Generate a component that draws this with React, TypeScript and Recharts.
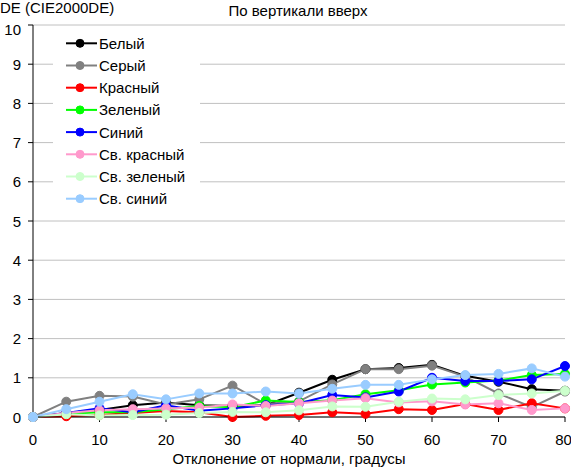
import React from 'react';
import { LineChart, Line, XAxis, YAxis, CartesianGrid, Label } from 'recharts';

const angles = [0, 5, 10, 15, 20, 25, 30, 35, 40, 45, 50, 55, 60, 65, 70, 75, 80];
const xTicks = [0, 10, 20, 30, 40, 50, 60, 70, 80];
const yTicks = [0, 1, 2, 3, 4, 5, 6, 7, 8, 9, 10];

const white = [0, 0.1, 0.18, 0.3, 0.37, 0.3, 0.28, 0.3, 0.62, 0.95, 1.22, 1.25, 1.33, 1.05, 0.9, 0.71, 0.67];
const gray = [0, 0.39, 0.54, 0.52, 0.32, 0.45, 0.8, 0.33, 0.4, 0.83, 1.22, 1.22, 1.31, 1.03, 0.6, 0.25, 0.65];
const red = [0, 0.02, 0.05, 0.1, 0.15, 0.12, 0.0, 0.03, 0.05, 0.12, 0.08, 0.2, 0.18, 0.33, 0.18, 0.35, 0.22];
const green = [0, 0.08, 0.12, 0.12, 0.2, 0.28, 0.25, 0.42, 0.38, 0.43, 0.58, 0.68, 0.83, 0.88, 0.93, 1.07, 1.1];
const blue = [0, 0.1, 0.22, 0.12, 0.3, 0.16, 0.22, 0.3, 0.35, 0.56, 0.5, 0.65, 1.0, 0.92, 0.92, 0.96, 1.3];
const lightRed = [0, 0.1, 0.17, 0.2, 0.22, 0.24, 0.32, 0.28, 0.35, 0.42, 0.48, 0.37, 0.4, 0.32, 0.35, 0.18, 0.22];
const lightGreen = [0, 0.07, 0.04, 0.05, 0.06, 0.1, 0.13, 0.12, 0.17, 0.27, 0.26, 0.39, 0.47, 0.45, 0.56, 0.6, 0.67];
const lightBlue = [0, 0.2, 0.39, 0.58, 0.45, 0.6, 0.6, 0.65, 0.6, 0.72, 0.82, 0.82, 0.96, 1.07, 1.1, 1.24, 1.03];

const seriesNames = ['Белый', 'Серый', 'Красный', 'Зеленый', 'Синий', 'Св. красный', 'Св. зеленый', 'Св. синий'];
const seriesColors = ['#000000', '#808080', '#ff0000', '#00ff00', '#0000ff', '#ff99cc', '#ccffcc', '#99ccff'];
const seriesValues = [white, gray, red, green, blue, lightRed, lightGreen, lightBlue];

const data = angles.map((a, i) => {
  const row: Record<string, number> = { angle: a };
  seriesNames.forEach((n, k) => {
    row[n] = seriesValues[k][i];
  });
  return row;
});

const FONT = '"Liberation Sans", Arial, sans-serif';
const FS = 15;

const YTick = (props: any) => {
  const { x, y, payload } = props;
  const shift = payload.value === 10 ? 4 : 0;
  return (
    <text x={x} y={y + shift} textAnchor="end" dominantBaseline="central" fontSize={FS} fontFamily={FONT} fill="#000">
      {payload.value}
    </text>
  );
};

export default function App() {
  return (
    <div style={{ position: 'absolute', left: 0, top: 0, width: 571, height: 468, background: '#fff', fontFamily: FONT }}>
      <LineChart width={571} height={468} data={data} margin={{ top: 25, right: 6, bottom: 0, left: 0 }}>
        <CartesianGrid horizontal={true} vertical={false} stroke="#c0c0c0" strokeWidth={1} />
        <XAxis
          dataKey="angle"
          type="number"
          domain={[0, 80]}
          ticks={xTicks}
          height={51}
          tickSize={5}
          tickMargin={12}
          axisLine={{ stroke: '#000' }}
          tickLine={{ stroke: '#000' }}
          tick={{ fill: '#000', fontSize: FS, fontFamily: FONT }}
        >
          <Label value="Отклонение от нормали, градусы" position="insideBottom" offset={4} dx={-10} fill="#000" fontSize={FS} fontFamily={FONT} />
        </XAxis>
        <YAxis
          type="number"
          domain={[0, 10]}
          ticks={yTicks}
          width={33}
          tickSize={5}
          tickMargin={7}
          interval={0}
          axisLine={{ stroke: '#000' }}
          tickLine={{ stroke: '#000' }}
          tick={<YTick />}
        />
        {seriesNames.map((n, k) => (
          <Line
            key={n}
            type="linear"
            dataKey={n}
            stroke={seriesColors[k]}
            strokeWidth={2}
            dot={{ r: 4.5, fill: seriesColors[k], stroke: seriesColors[k], strokeWidth: 1 }}
            activeDot={false}
            isAnimationActive={false}
          />
        ))}
      </LineChart>
      <div style={{ position: 'absolute', left: 0, top: 0, fontSize: FS, lineHeight: '15px', color: '#000' }}>DE (CIE2000DE)</div>
      <div style={{ position: 'absolute', left: 198, width: 200, textAlign: 'center', top: 2, fontSize: FS, lineHeight: '17px', color: '#000' }}>По вертикали вверх</div>
      <svg style={{ position: 'absolute', left: 53, top: 30 }} width={147} height={185}>
        <rect x={0} y={0} width={147} height={185} fill="#fff" />
        {seriesNames.map((n, k) => {
          const cy = 13.3 + k * 22.2;
          return (
            <g key={n}>
              <line x1={13} x2={44} y1={cy} y2={cy} stroke={seriesColors[k]} strokeWidth={2} />
              <circle cx={27} cy={cy} r={4} fill={seriesColors[k]} stroke={seriesColors[k]} />
              <text x={46} y={cy} dominantBaseline="central" fontSize={FS} fontFamily={FONT} fill="#000">{n}</text>
            </g>
          );
        })}
      </svg>
    </div>
  );
}
